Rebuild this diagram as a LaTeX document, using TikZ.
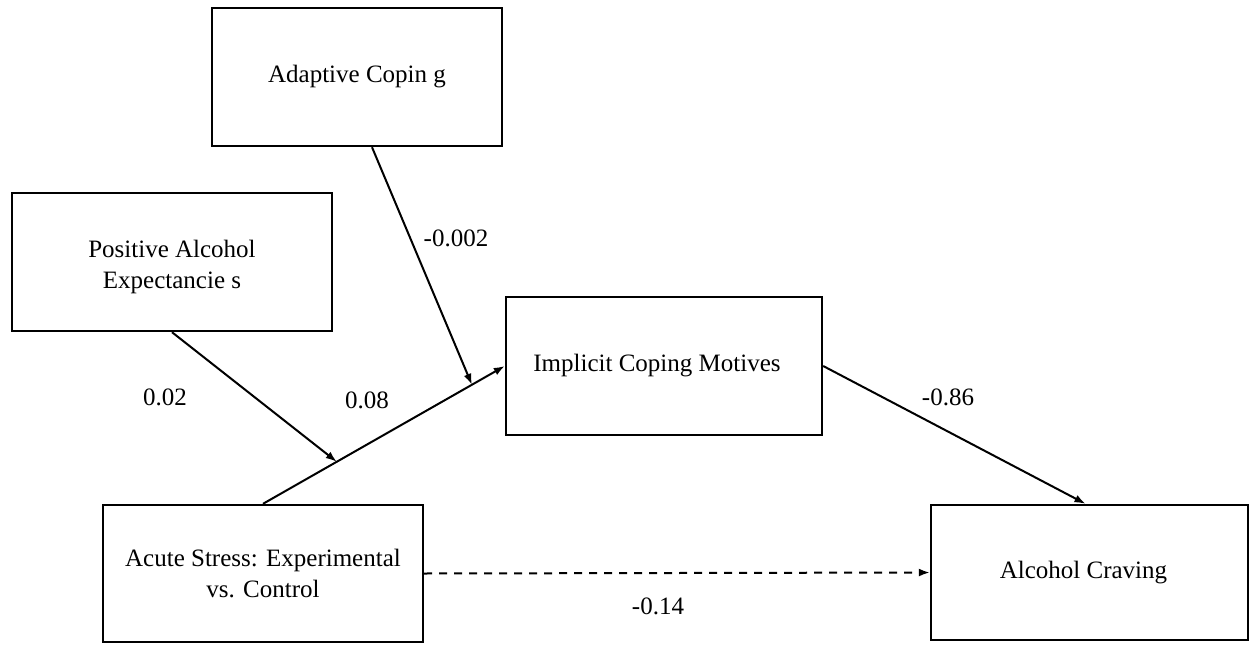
\documentclass[tikz,border=0pt]{standalone}
\usepackage{fontspec}
\setmainfont{Liberation Serif}
\usetikzlibrary{arrows.meta,calc}
\begin{document}
\begin{tikzpicture}[x=1pt,y=-1pt,
  box/.style={draw,line width=2.4pt,rectangle,inner sep=0pt,align=center,
    font=\fontsize{25}{31}\selectfont},
  conn/.style={line width=2pt,-{Latex[length=11pt,width=8pt]}},
  lab/.style={font=\fontsize{25}{31}\selectfont,inner sep=0pt},
  txt/.style={align=center,inner sep=0pt,font=\fontsize{25}{31}\selectfont}]
\useasboundingbox (0,0) rectangle (1251,645);
\node[box,minimum width=290pt,minimum height=138pt] (ac) at (357,77) {Adaptive Copin g};
\node[box,minimum width=320pt,minimum height=138pt] (pae) at (172,262) {};
\node[txt] (paet) at ($(pae.center)+(0,5)$) {Positive Alcohol\\Expectancie s};
\node[box,minimum width=316pt,minimum height=138pt] (icm) at (664,366) {Implicit Coping Motives\hspace*{14pt}};
\node[box,minimum width=317pt,minimum height=135pt] (cr) at (1089.5,572.5) {\hspace*{-12pt}Alcohol Craving};
\node[box,minimum width=320pt,minimum height=137pt] (as) at (263,573.5) {Acute Stress: Experimental\\vs. Control};
\coordinate (m1) at ($(as.north)!0.305!(icm.west)$);
\coordinate (m2) at ($(as.north)!0.864!(icm.west)$);
\coordinate (acs) at ($(ac.south)+(15,0)$);
\coordinate (crn) at ($(cr.north)+(-4,0)$);
\draw[conn] (as.north) -- (icm.west);
\draw[conn] (pae.south) -- (m1);
\draw[conn] (acs) -- (m2);
\draw[conn] (icm.east) -- (crn);
\draw[conn,dash pattern=on 8pt off 7pt] (as.east) -- (cr.west);
\node[lab] (l1) at (456,238) {-0.002};
\node[lab] (l2) at (165,397) {0.02};
\node[lab] (l3) at (367,400) {0.08};
\node[lab] (l4) at (948,397) {-0.86};
\node[lab] (l5) at (658,606) {-0.14};
\end{tikzpicture}
\end{document}
